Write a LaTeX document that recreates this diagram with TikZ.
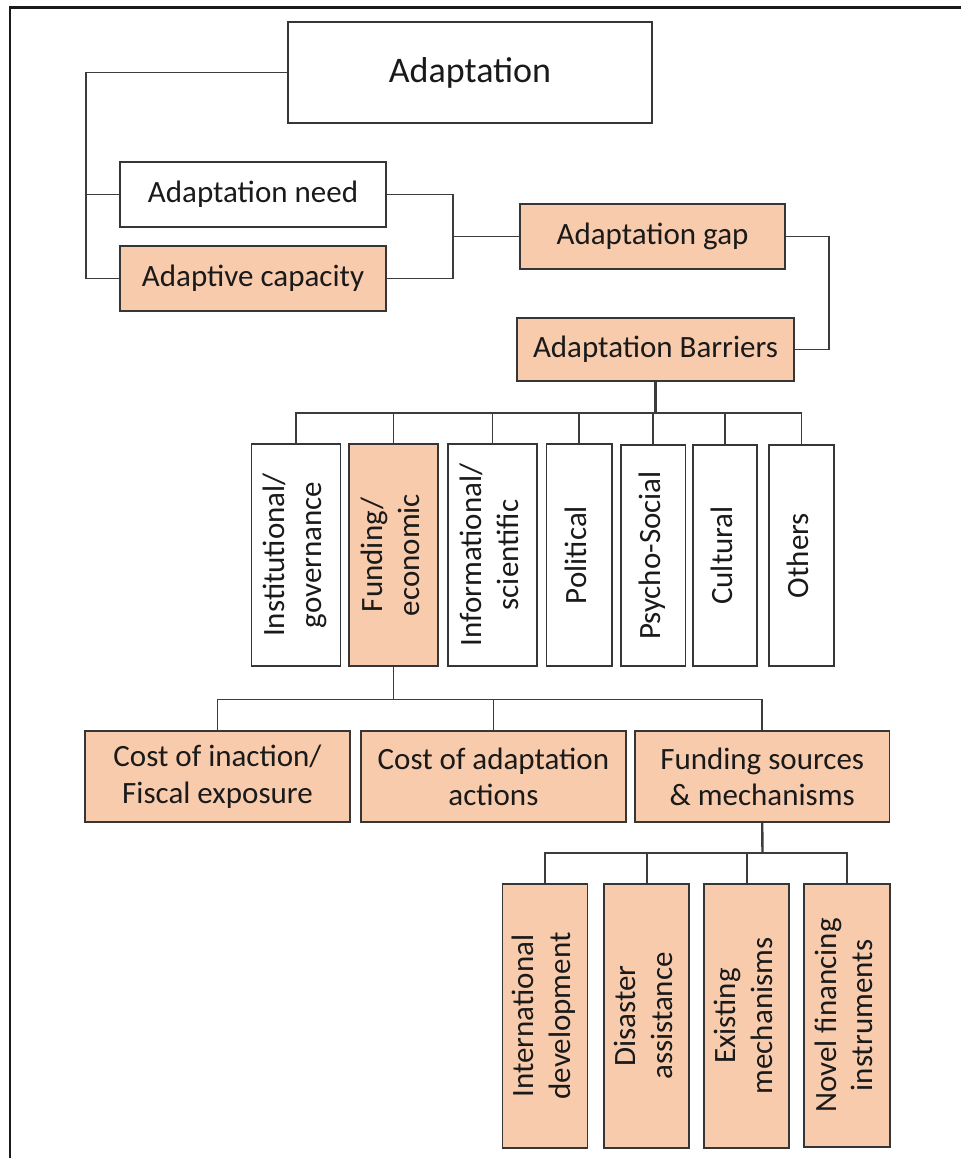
\documentclass[tikz,border=0pt]{standalone}
\usepackage{fontspec}
\setmainfont{Carlito}
\usepackage{graphicx}
\definecolor{peach}{HTML}{F8CBAD}
\definecolor{edge}{HTML}{363636}
\definecolor{wire}{HTML}{3C3C3C}
\definecolor{ink}{HTML}{1A1A1A}
\newcommand{\vlab}[1]{\rotatebox{90}{\begin{tabular}{@{}c@{}}#1\end{tabular}}}
\tikzset{
  box/.style={draw=edge, line width=1.8pt, rectangle, inner sep=0pt, text=ink,
    align=center, font=\fontsize{31}{36.7}\selectfont},
  plain/.style={box, fill=white},
  warm/.style={box, fill=peach},
  link/.style={draw=wire, line width=1.8pt},
}
\begin{document}
\begin{tikzpicture}[x=1pt,y=-1pt]
\useasboundingbox (0,0) rectangle (961,1158);
% outer frame (top and left edges)
\draw[ink, line width=2.2pt] (10,1158) -- (10,7.5) -- (961,7.5);

% upper chain
\node[plain, minimum width=364pt, minimum height=101pt, font=\fontsize{36}{42}\selectfont] (adapt) at (470,72.5) {Adaptation};
\node[plain, minimum width=266pt, minimum height=65pt] (need) at (253,194.5) {Adaptation need};
\node[warm, minimum width=266pt, minimum height=65pt] (capac) at (253,278.5) {Adaptive capacity};
\node[warm, minimum width=265pt, minimum height=65pt] (gap) at (652.5,236.5) {Adaptation gap};
\node[warm, minimum width=277pt, minimum height=63pt] (barr) at (655.5,349.5) {Adaptation Barriers};

% barrier categories
\node[plain, minimum width=89pt, minimum height=222pt] (inst) at (296,555) {\vlab{Institutional/\\governance}};
\node[warm, minimum width=88.5pt, minimum height=222pt] (fund) at (393.5,555) {\vlab{Funding/\\economic}};
\node[plain, minimum width=89.6pt, minimum height=222pt] (info) at (492.5,555) {\vlab{Informational/\\scientific}};
\node[plain, minimum width=65.4pt, minimum height=222pt] (poli) at (579.2,555) {\vlab{Political}};
\node[plain, minimum width=64.6pt, minimum height=221pt] (psy) at (653.1,555.5) {\vlab{Psycho-Social}};
\node[plain, minimum width=64.3pt, minimum height=221pt] (cult) at (725.2,555.5) {\vlab{Cultural}};
\node[plain, minimum width=65.4pt, minimum height=221pt] (oth) at (801.5,555.5) {\vlab{Others}};

% funding / economic branches
\node[warm, minimum width=265.7pt, minimum height=91pt] (cinact) at (217.5,776.8) {Cost of inaction/\\Fiscal exposure};
\node[warm, minimum width=265.2pt, minimum height=91pt] (cadapt) at (493.4,776.8) {Cost of adaptation\\actions};
\node[warm, minimum width=254.5pt, minimum height=91pt] (fsrc) at (762.2,776.8) {Funding sources\\\& mechanisms};

% funding sources
\node[warm, minimum width=85pt, minimum height=264pt] (intl) at (545,1016) {\vlab{International\\development}};
\node[warm, minimum width=85.3pt, minimum height=264pt] (dis) at (646.7,1016) {\vlab{Disaster\\assistance}};
\node[warm, minimum width=85.3pt, minimum height=264pt] (exist) at (746.7,1016) {\vlab{Existing\\mechanisms}};
\node[warm, minimum width=85.7pt, minimum height=263pt] (novel) at (847.2,1015.5) {\vlab{Novel financing\\instruments}};

% junction points
\coordinate (lspine) at (86,0);
\coordinate (rspine) at (453,0);
\coordinate (gspine) at (829,0);
\coordinate (bus1) at (655.5,412.7);
\coordinate (bus2) at (393.5,699.5);
\coordinate (bus3) at (762.5,853);

% connectors: upper chain
\draw[link] (adapt.west) -| (lspine |- capac.west) -- (capac.west);
\draw[link] (lspine |- need.west) -- (need.west);
\draw[link] (need.east) -| (rspine |- capac.east) -- (capac.east);
\draw[link] (rspine |- gap.west) -- (gap.west);
\draw[link] (gap.east) -| (gspine |- barr.east) -- (barr.east);

% connectors: categories
\draw[link, line width=2.4pt] (barr.south) -- (bus1);
\foreach \n in {inst,fund,info,poli,psy,cult,oth}
  \draw[link] (\n.north) |- (bus1);

% connectors: funding / economic
\draw[link] (fund.south) -- (bus2);
\foreach \n in {cinact,cadapt,fsrc}
  \draw[link] (\n.north) |- (bus2);

% connectors: funding sources
\draw[link, line width=2.4pt] (fsrc.south) -- (bus3);
\foreach \n in {intl,dis,exist,novel}
  \draw[link] (\n.north) |- (bus3);
\end{tikzpicture}
\end{document}
